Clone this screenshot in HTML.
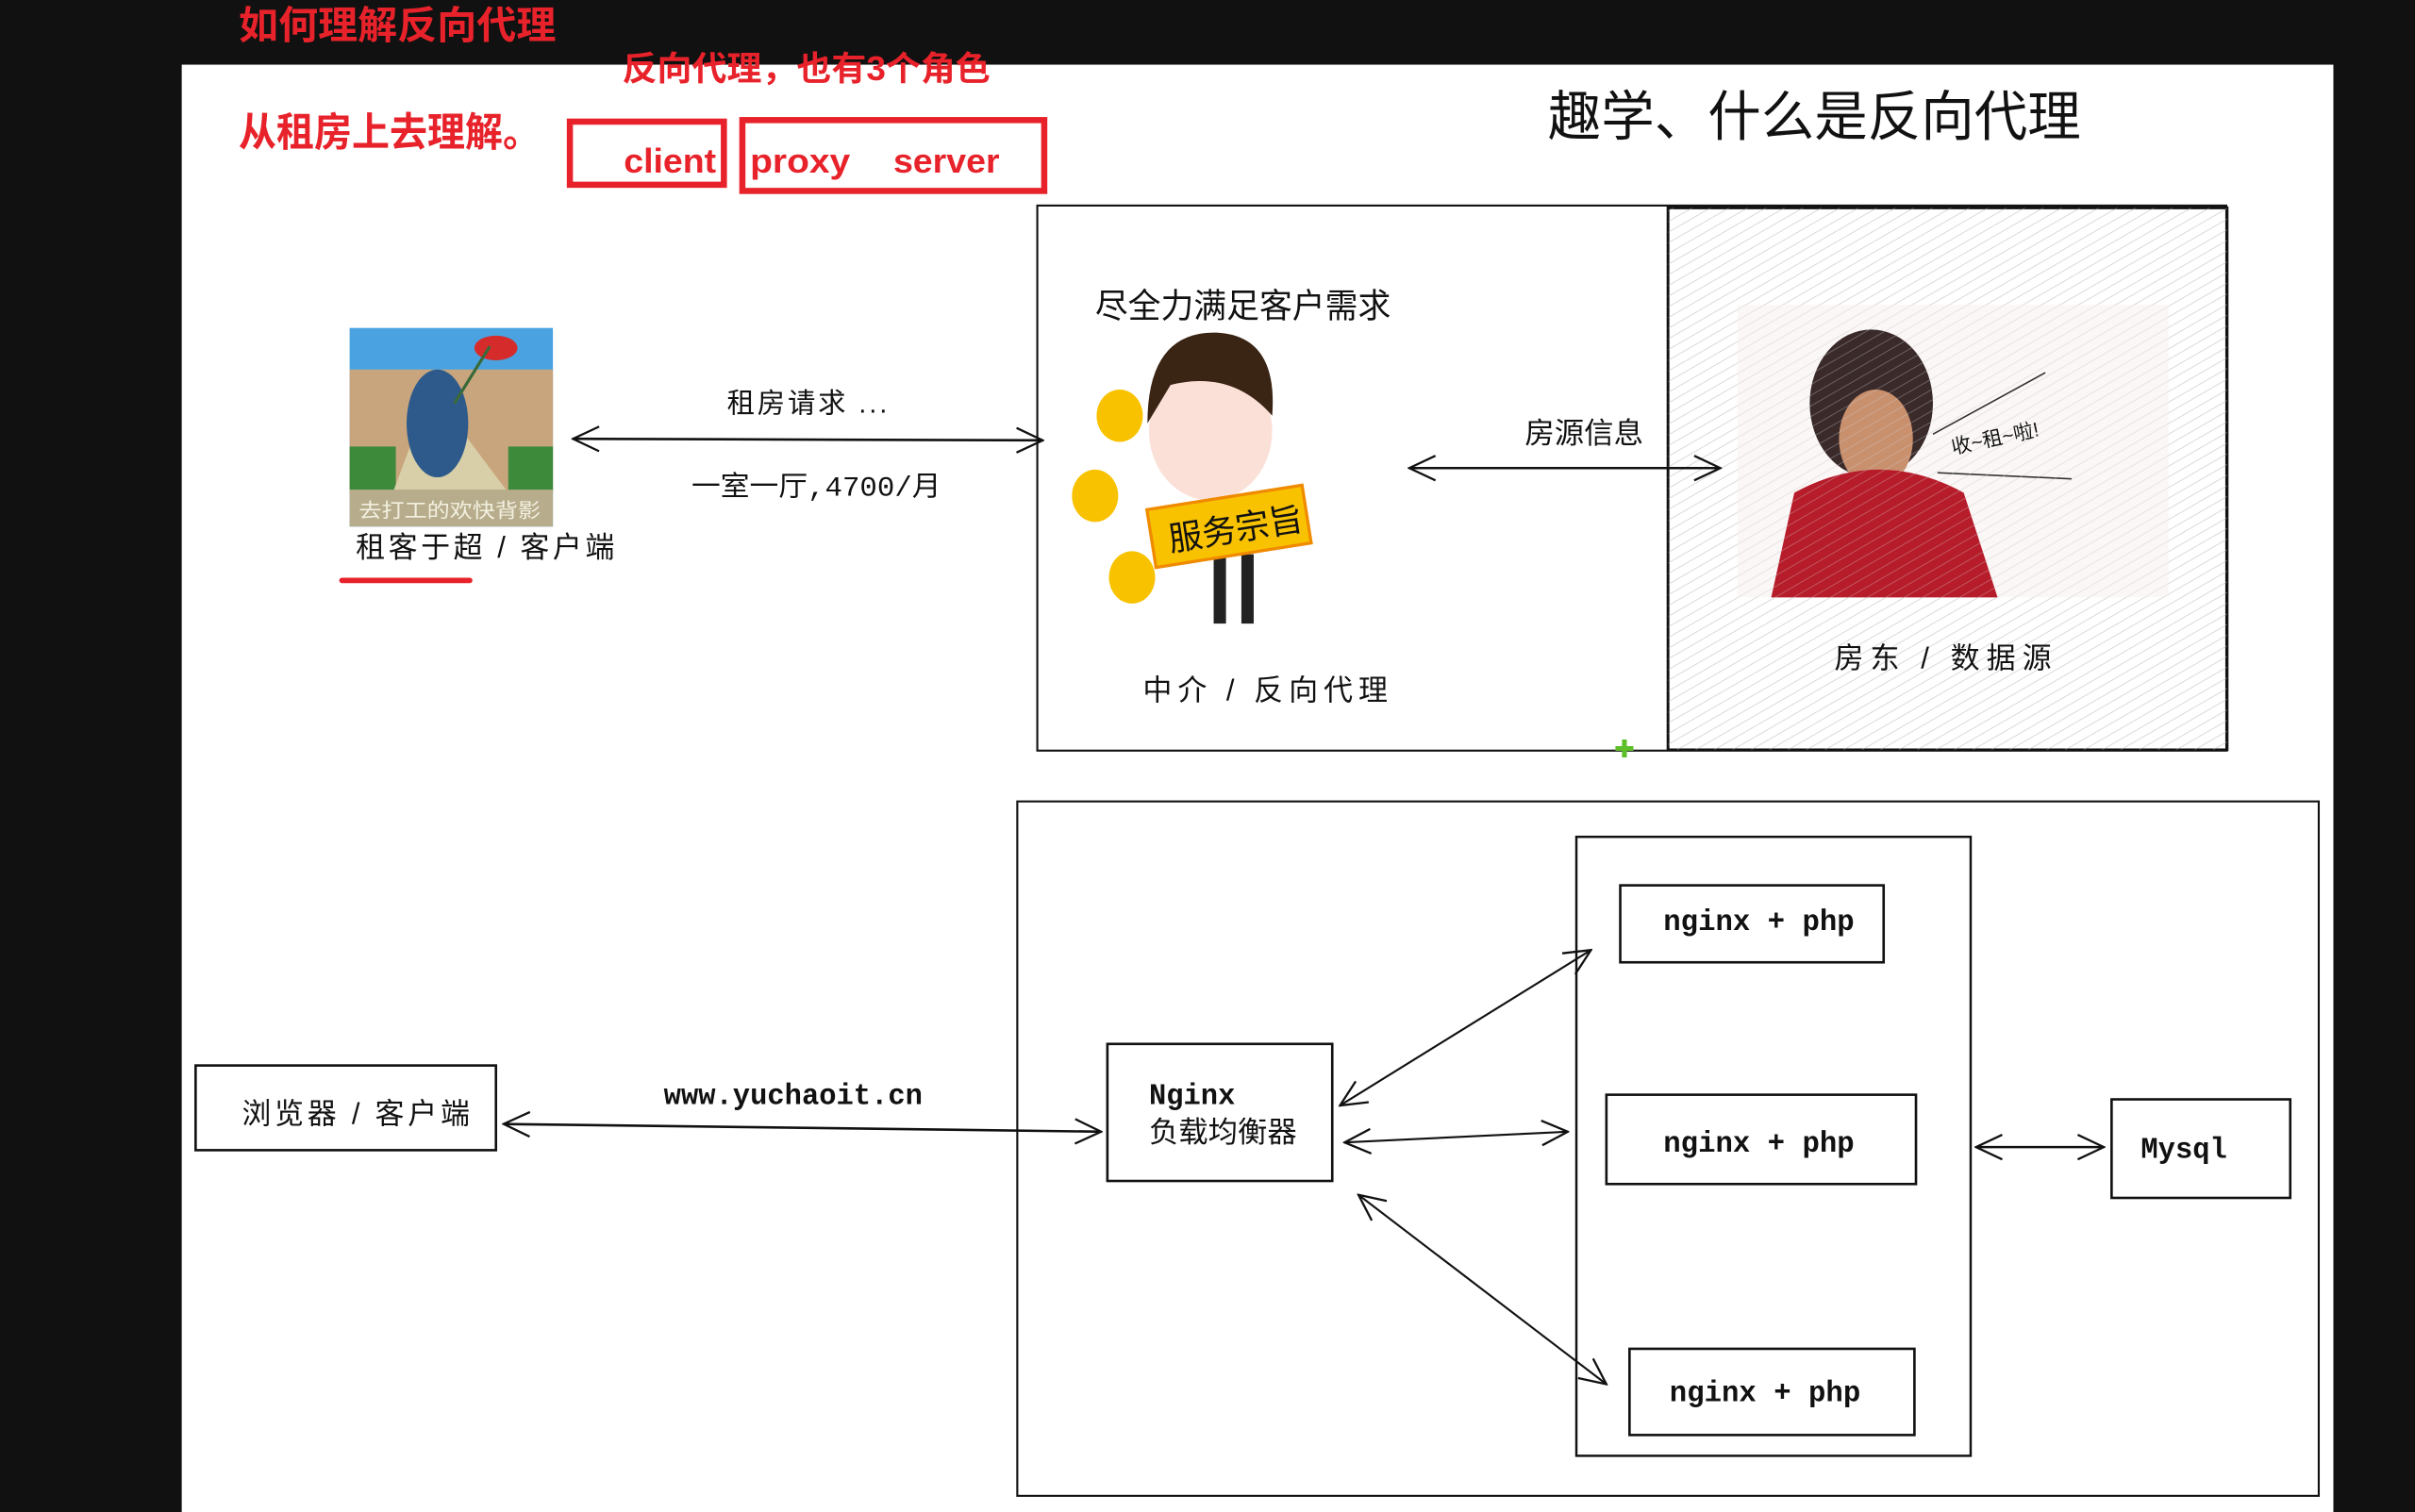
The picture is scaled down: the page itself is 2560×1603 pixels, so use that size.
<!DOCTYPE html>
<html><head><meta charset="utf-8"><style>
html,body{margin:0;padding:0;background:#111;}
svg{display:block}
.t{font-family:"Liberation Sans","Noto Sans CJK SC",sans-serif;fill:#111}
.m{font-family:"Liberation Mono","Noto Sans CJK SC",monospace;fill:#111}
.r{font-family:"Liberation Sans","Noto Sans CJK SC",sans-serif;fill:#e8222a;font-weight:bold}
</style></head><body>
<svg width="2560" height="1603" viewBox="0 0 1568 982" preserveAspectRatio="none" xmlns="http://www.w3.org/2000/svg">
<defs>
<pattern id="h" width="6" height="6" patternUnits="userSpaceOnUse" patternTransform="rotate(60)">
<line x1="0" y1="0" x2="0" y2="6" stroke="#cfcfcf" stroke-width="0.8"/></pattern>
<marker id="a" viewBox="0 0 20 20" refX="19" refY="10" markerWidth="20" markerHeight="20" markerUnits="userSpaceOnUse" orient="auto-start-reverse">
<path d="M2 2 L19 10 L2 18" fill="none" stroke="#111" stroke-width="1.4"/></marker>
</defs>
<rect width="1568" height="982" fill="#111"/>
<rect x="118" y="42" width="1397" height="940" fill="#fff"/>

<text class="r" x="155" y="25" font-size="25" textLength="206" lengthAdjust="spacingAndGlyphs">如何理解反向代理</text>
<text class="r" x="404" y="52" font-size="22" textLength="239" lengthAdjust="spacingAndGlyphs">反向代理，也有3个角色</text>
<text class="r" x="155" y="95" font-size="26" textLength="196" lengthAdjust="spacingAndGlyphs">从租房上去理解。</text>
<rect x="370" y="79" width="100" height="41" fill="none" stroke="#e8222a" stroke-width="4"/>
<text class="r" x="405" y="112" font-size="22" textLength="60" lengthAdjust="spacingAndGlyphs">client</text>
<rect x="482" y="78" width="196" height="46" fill="none" stroke="#e8222a" stroke-width="4"/>
<text class="r" x="487" y="112" font-size="22" textLength="65" lengthAdjust="spacingAndGlyphs">proxy</text>
<text class="r" x="580" y="112" font-size="22" textLength="69" lengthAdjust="spacingAndGlyphs">server</text>

<text class="t" x="1005" y="88" font-size="35" textLength="346" lengthAdjust="spacingAndGlyphs">趣学、什么是反向代理</text>

<rect x="673.5" y="133.5" width="772" height="354" fill="none" stroke="#111" stroke-width="1.3"/>
<rect x="1083" y="135" width="363" height="352" fill="url(#h)" stroke="#111" stroke-width="1.8"/>
<rect x="1128" y="198" width="280" height="190" fill="#fbf3f3" opacity="0.7"/>
<ellipse cx="1215" cy="262" rx="40" ry="48" fill="#3a2a2a"/>
<ellipse cx="1218" cy="285" rx="24" ry="32" fill="#c9906e"/>
<path d="M1150 388 L1165 320 Q1220 290 1275 320 L1297 388 Z" fill="#b71c2a"/>
<line x1="1255" y1="282" x2="1328" y2="242" stroke="#333"/>
<line x1="1258" y1="307" x2="1345" y2="311" stroke="#333"/>
<text class="t" x="1268" y="295" font-size="13" transform="rotate(-12 1268 295)">收~租~啦!</text>
<rect x="1083" y="135" width="363" height="352" fill="url(#h)" opacity="0.5"/>

<rect x="227" y="213" width="132" height="129" fill="#4aa3e0"/>
<rect x="227" y="240" width="132" height="80" fill="#c9a57d"/>
<rect x="227" y="290" width="30" height="30" fill="#3c8a3a"/>
<rect x="330" y="290" width="29" height="30" fill="#3c8a3a"/>
<path d="M255 320 L270 280 L300 280 L330 320 Z" fill="#d8cfa8"/>
<rect x="227" y="318" width="132" height="24" fill="#b7ad8c"/>
<ellipse cx="284" cy="275" rx="20" ry="35" fill="#2d5a8a"/>
<ellipse cx="322" cy="226" rx="14" ry="8" fill="#d62b2b"/>
<line x1="295" y1="262" x2="318" y2="225" stroke="#3a6a3a" stroke-width="2"/>
<text x="233" y="336" font-size="13" fill="#f3f0e0" font-family="Liberation Sans,Noto Sans CJK SC,sans-serif" textLength="118" lengthAdjust="spacingAndGlyphs">去打工的欢快背影</text>
<text class="t" x="231" y="362" font-size="19" textLength="168" lengthAdjust="spacing">租客于超 / 客户端</text>
<line x1="222" y1="377" x2="305" y2="377" stroke="#e8222a" stroke-width="3.5" stroke-linecap="round"/>

<line x1="372" y1="285" x2="677" y2="286" stroke="#111" stroke-width="1.6" marker-start="url(#a)" marker-end="url(#a)"/>
<text class="t" x="472" y="268" font-size="18" textLength="104" lengthAdjust="spacing">租房请求 ...</text>
<text class="m" x="449" y="322" font-size="18" textLength="162" lengthAdjust="spacingAndGlyphs">一室一厅,4700/月</text>

<text class="t" x="711" y="206" font-size="22" textLength="192" lengthAdjust="spacingAndGlyphs">尽全力满足客户需求</text>
<ellipse cx="727" cy="270" rx="15" ry="17" fill="#f8c200"/>
<ellipse cx="711" cy="322" rx="15" ry="17" fill="#f8c200"/>
<ellipse cx="735" cy="375" rx="15" ry="17" fill="#f8c200"/>
<ellipse cx="786" cy="280" rx="40" ry="45" fill="#fbe0d8"/>
<path d="M745 275 Q745 215 790 216 Q830 218 826 270 Q800 240 760 250 Z" fill="#3a2414"/>
<rect x="788" y="360" width="8" height="45" fill="#222"/><rect x="806" y="360" width="8" height="45" fill="#222"/>
<g transform="rotate(-9 797 342)"><rect x="747" y="323" width="102" height="38" fill="#f8c200" stroke="#f08a00" stroke-width="2"/>
<text class="t" x="758" y="352" font-size="22">服务宗旨</text></g>
<text class="t" x="742" y="455" font-size="19" textLength="159" lengthAdjust="spacing">中介 / 反向代理</text>

<line x1="915" y1="304" x2="1117" y2="304" stroke="#111" stroke-width="1.6" marker-start="url(#a)" marker-end="url(#a)"/>
<text class="t" x="990" y="288" font-size="19" textLength="77" lengthAdjust="spacingAndGlyphs">房源信息</text>
<text class="t" x="1191" y="434" font-size="19" textLength="141" lengthAdjust="spacing">房东 / 数据源</text>
<text x="1048" y="492" font-size="16" fill="#5fbf2a" font-family="DejaVu Sans,sans-serif">✚</text>

<rect x="660.5" y="520.5" width="845" height="451" fill="none" stroke="#111" stroke-width="1.3"/>
<rect x="1023.5" y="543.5" width="256" height="402" fill="none" stroke="#111" stroke-width="1.5"/>
<rect x="1052" y="575" width="171" height="50" fill="none" stroke="#111" stroke-width="1.6"/>
<text class="m" x="1080" y="604" font-size="19" font-weight="bold" textLength="124" lengthAdjust="spacingAndGlyphs">nginx + php</text>
<rect x="1043" y="711" width="201" height="58" fill="none" stroke="#111" stroke-width="1.6"/>
<text class="m" x="1080" y="748" font-size="19" font-weight="bold" textLength="124" lengthAdjust="spacingAndGlyphs">nginx + php</text>
<rect x="1058" y="876" width="185" height="56" fill="none" stroke="#111" stroke-width="1.6"/>
<text class="m" x="1084" y="910" font-size="19" font-weight="bold" textLength="124" lengthAdjust="spacingAndGlyphs">nginx + php</text>

<rect x="719" y="678" width="146" height="89" fill="none" stroke="#111" stroke-width="1.6"/>
<text class="m" x="746" y="717" font-size="19" font-weight="bold" textLength="56" lengthAdjust="spacingAndGlyphs">Nginx</text>
<text class="t" x="746" y="742" font-size="19" textLength="96" lengthAdjust="spacingAndGlyphs">负载均衡器</text>

<rect x="127" y="692" width="195" height="55" fill="none" stroke="#111" stroke-width="1.6"/>
<text class="t" x="157" y="730" font-size="19" textLength="148" lengthAdjust="spacing">浏览器 / 客户端</text>

<line x1="327" y1="730" x2="715" y2="735" stroke="#111" stroke-width="1.6" marker-start="url(#a)" marker-end="url(#a)"/>
<text class="m" x="431" y="717" font-size="19" font-weight="bold" textLength="168" lengthAdjust="spacingAndGlyphs">www.yuchaoit.cn</text>

<line x1="870" y1="718" x2="1033" y2="617" stroke="#111" stroke-width="1.3" marker-start="url(#a)" marker-end="url(#a)"/>
<line x1="873" y1="742" x2="1018" y2="735" stroke="#111" stroke-width="1.3" marker-start="url(#a)" marker-end="url(#a)"/>
<line x1="882" y1="776" x2="1043" y2="899" stroke="#111" stroke-width="1.3" marker-start="url(#a)" marker-end="url(#a)"/>

<rect x="1371" y="714" width="116" height="64" fill="none" stroke="#111" stroke-width="1.6"/>
<text class="m" x="1390" y="752" font-size="19" font-weight="bold" textLength="56" lengthAdjust="spacingAndGlyphs">Mysql</text>
<line x1="1283" y1="745" x2="1366" y2="745" stroke="#111" stroke-width="1.6" marker-start="url(#a)" marker-end="url(#a)"/>
</svg>
</body></html>
